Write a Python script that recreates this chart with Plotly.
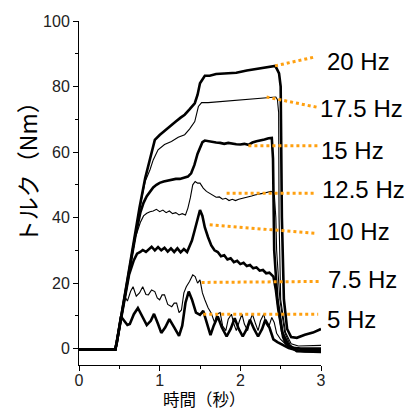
import plotly.graph_objects as go

# ---------------- data (time in s, torque in Nm) ----------------
t_5 = [0, 0.45, 0.47, 0.52, 0.56, 0.60, 0.63, 0.68, 0.73, 0.78, 0.84, 0.89, 0.93, 0.98, 1.02, 1.07, 1.12,
       1.18, 1.24, 1.28, 1.32, 1.36, 1.40, 1.45, 1.50, 1.54, 1.58, 1.63, 1.67, 1.72, 1.77, 1.83, 1.88, 1.93,
       1.98, 2.03, 2.08, 2.12, 2.17, 2.22, 2.27, 2.31, 2.36, 2.41, 2.46, 2.53, 2.60, 2.70, 2.80, 3.0]
v_5 = [-0.3, -0.3, 2, 9.8, 8.5, 7.2, 7.5, 10.5, 12.4, 10, 7.2, 8.5, 10.6, 7.5, 4.8, 6.5, 9,
       6.5, 3.9, 7, 14, 17.4, 15, 11, 10.3, 11.5, 8.5, 4.1, 7, 9.8, 6.5, 3.7, 6, 9.3,
       6, 3.7, 6, 8.8, 6, 3.7, 6, 8.8, 6.5, 2.8, 2.0, 1.1, 0.2, -0.5, -0.8, -0.8]

t_75 = [0, 0.45, 0.48, 0.53, 0.57, 0.60, 0.64, 0.67, 0.71, 0.75, 0.79, 0.83, 0.86, 0.90, 0.94, 0.97, 1.00,
        1.03, 1.06, 1.10, 1.15, 1.18, 1.21, 1.24, 1.27, 1.30, 1.33, 1.37, 1.41, 1.44, 1.47, 1.50, 1.53,
        1.56, 1.60, 1.64, 1.68, 1.71, 1.75, 1.78, 1.82, 1.85, 1.89, 1.92, 1.95, 1.99, 2.02, 2.05, 2.09,
        2.12, 2.15, 2.19, 2.22, 2.25, 2.29, 2.32, 2.35, 2.39, 2.42, 2.45, 2.50, 2.57, 2.65, 2.75, 3.0]
v_75 = [-0.3, -0.3, 3, 10, 15.9, 14.5, 17.5, 18.9, 16, 17, 18.9, 16.5, 16.4, 17.9, 17.4, 15.5, 14.9,
        16.4, 16.4, 13.5, 12.8, 13.9, 13.9, 11.0, 11.8, 17, 18.9, 20.5, 22.5, 22, 20, 21, 17,
        14.9, 12.5, 10.8, 8, 10.5, 11, 7, 5.5, 9, 10.5, 7.5, 5.5, 8.5, 10.5, 7.5, 5.5,
        8.5, 10.5, 7.5, 5.5, 8.5, 10.5, 7.5, 6.5, 9.5, 8, 4.7, 2.8, 1.2, 0, -0.8, -0.9]

t_10 = [0, 0.45, 0.48, 0.55, 0.62, 0.68, 0.72, 0.76, 0.79, 0.83, 0.87, 0.90, 0.94, 0.98, 1.02, 1.06, 1.10,
        1.14, 1.18, 1.22, 1.26, 1.30, 1.34, 1.37, 1.40, 1.435, 1.47, 1.50, 1.53, 1.56, 1.60, 1.64, 1.68,
        1.72, 1.76, 1.80, 1.84, 1.88, 1.92, 1.96, 2.00, 2.04, 2.08, 2.12, 2.16, 2.20, 2.24, 2.28, 2.32,
        2.36, 2.41, 2.44, 2.47, 2.50, 2.53, 2.56, 2.62, 2.75, 3.0]
v_10 = [-0.3, -0.3, 3.5, 13, 22.5, 27, 29, 29.5, 30.1, 29.5, 30.5, 31.1, 30, 31, 30, 30.8, 29.6,
        30.6, 29.5, 30.6, 29.4, 30.4, 29.5, 31.1, 33, 36.2, 40, 42.3, 40.5, 37, 34, 31.5, 30,
        29.5, 28.2, 28.5, 27.2, 27.6, 26.4, 26.8, 25.8, 26.2, 25.2, 25.5, 24.5, 24.8, 23.8, 24, 23,
        23.2, 22, 18, 12, 7, 3.5, 1.8, 0.3, 0, 0]

t_125 = [0, 0.45, 0.50, 0.60, 0.70, 0.76, 0.80, 0.84, 0.88, 0.92, 0.96, 1.00, 1.04, 1.08, 1.12, 1.16, 1.20,
         1.24, 1.28, 1.32, 1.35, 1.38, 1.41, 1.44, 1.47, 1.50, 1.54, 1.58, 1.62, 1.66, 1.70, 1.74, 1.78,
         1.82, 1.86, 1.90, 1.94, 1.98, 2.02, 2.06, 2.10, 2.14, 2.18, 2.22, 2.26, 2.30, 2.34, 2.38, 2.42,
         2.44, 2.45, 2.49, 2.55, 2.62, 2.72, 3.0]
v_125 = [-0.3, -0.3, 6.5, 20.5, 34, 38.5, 40.5, 41.3, 41.8, 42, 42.5, 41.8, 42.3, 41.5, 42, 41.2, 41.5,
         40.8, 41.2, 40.8, 42.9, 46, 50, 51, 50.5, 50.5, 49, 48, 47.4, 46.7, 46.2, 46.3, 45.6,
         45.9, 45.2, 45.6, 45.2, 45.6, 45.8, 46, 46.3, 46.6, 46.9, 47, 47.3, 47.5, 47.8, 48, 47.5,
         40, 30, 15, 5, 1, -0.5, -0.6]

t_15 = [0, 0.45, 0.50, 0.60, 0.70, 0.76, 0.80, 0.84, 0.88, 0.92, 0.96, 1.00, 1.05, 1.10, 1.15, 1.20, 1.25,
        1.30, 1.35, 1.39, 1.43, 1.47, 1.50, 1.53, 1.56, 1.60, 1.65, 1.70, 1.75, 1.80, 1.85, 1.90, 1.95,
        2.00, 2.05, 2.10, 2.15, 2.20, 2.25, 2.30, 2.35, 2.39, 2.405, 2.42, 2.46, 2.52, 2.60, 2.70, 3.0]
v_15 = [-0.3, -0.3, 6.5, 20.5, 34.5, 41.5, 44.5, 46.5, 48, 49.2, 50, 50.6, 51, 51.3, 51.5, 51.8, 51.8,
        52.2, 52.5, 53.5, 56, 59.5, 61.5, 63, 63.5, 63.3, 63.2, 62.9, 62.8, 62.5, 62.8, 62.5, 62.4,
        62.3, 62.5, 62.2, 62.9, 63.3, 63.5, 63.8, 64.2, 64.3, 58, 30, 15, 5, 1, -0.8, -1]

t_175 = [0, 0.45, 0.47, 0.55, 0.65, 0.75, 0.82, 0.88, 0.92, 0.98, 1.06, 1.146, 1.23, 1.31, 1.37, 1.435, 1.48,
         1.52, 1.60, 1.70, 1.80, 1.91, 2.00, 2.10, 2.20, 2.32, 2.44, 2.46, 2.475, 2.48, 2.50, 2.56, 2.63,
         2.72, 3.0]
v_175 = [-0.3, -0.3, 2, 13.5, 28, 42.5, 51, 54.6, 57.6, 60.7, 62.3, 63.2, 64.5, 65.3, 67, 69.3, 73.9,
         75.1, 75.1, 75.3, 75.4, 75.7, 75.8, 76.1, 76.3, 76.6, 76.8, 76, 72, 40, 15, 5, 1.5,
         0.8, 1.0]

t_20 = [0, 0.45, 0.47, 0.55, 0.65, 0.75, 0.82, 0.86, 0.90, 0.94, 1.00, 1.06, 1.125, 1.20, 1.26, 1.31, 1.37,
        1.435, 1.47, 1.50, 1.56, 1.62, 1.70, 1.83, 1.95, 2.08, 2.16, 2.24, 2.33, 2.43, 2.45, 2.48, 2.50,
        2.515, 2.54, 2.58, 2.63, 2.70, 2.80, 2.90, 3.0]
v_20 = [-0.3, -0.3, 2, 14, 28.5, 43, 52, 56, 60.5, 63.7, 65.2, 66.5, 67.8, 69.3, 70.5, 71.4, 73,
        74.9, 77.5, 81, 83.3, 83.3, 83.8, 83.9, 84.2, 84.9, 85.2, 85.6, 86, 86.3, 85.5, 84, 80,
        40, 15, 6, 3.5, 3.3, 4.2, 4.9, 6]

series_t = [t_20, t_175, t_15, t_125, t_10, t_75, t_5]
series_v = [v_20, v_175, v_15, v_125, v_10, v_75, v_5]
series_names = ["20 Hz", "17.5 Hz", "15 Hz", "12.5 Hz", "10 Hz", "7.5 Hz", "5 Hz"]
series_thick = [True, False, True, False, True, False, True]

# leader lines (curve point -> label) and label anchor positions (data units)
leader_t0 = [2.43, 2.325, 2.10, 1.83, 1.62, 1.52, 1.54]
leader_v0 = [86.3, 76.8, 61.9, 47.4, 37.8, 20.2, 10.5]
leader_t1 = [2.92, 2.945, 2.965, 2.925, 2.925, 2.99, 2.965]
leader_v1 = [89.0, 73.7, 61.9, 47.4, 35.2, 20.5, 10.5]
label_t = [3.05, 2.96, 2.97, 2.99, 3.05, 3.06, 3.05]
label_v = [87.5, 73.2, 60.4, 48.5, 35.6, 21.0, 8.8]

x_range = [0, 3]
y_range = [-5, 100]
x_ticks = [0, 1, 2, 3]
y_ticks = [0, 20, 40, 60, 80, 100]

fig = go.Figure()

for tt, vv, nm, thick in zip(series_t, series_v, series_names, series_thick):
    fig.add_trace(go.Scatter(
        x=tt, y=vv, mode="lines", name=nm, showlegend=False,
        line=dict(color="black", width=2.6 if thick else 1.1),
        hoverinfo="skip"))

for x0, y0, x1, y1 in zip(leader_t0, leader_v0, leader_t1, leader_v1):
    fig.add_trace(go.Scatter(
        x=[x0, x1], y=[y0, y1], mode="lines", showlegend=False, cliponaxis=False,
        line=dict(color="#FFA010", width=3, dash="3px,3px"), hoverinfo="skip"))

# labels sit to the right of the plot area; place them in paper units derived from data units
for nm, lx, ly in zip(series_names, label_t, label_v):
    px = (lx - x_range[0]) / (x_range[1] - x_range[0])
    py = (ly - y_range[0]) / (y_range[1] - y_range[0])
    fig.add_annotation(x=px, y=py, xref="paper", yref="paper", text=nm, showarrow=False,
                       xanchor="left", yanchor="middle",
                       font=dict(family="Liberation Sans, Arial, sans-serif", size=24, color="black"))

axis_font = dict(family="Liberation Sans, Arial, sans-serif", size=16, color="#222")
title_family = "Noto Sans CJK JP, Liberation Sans, sans-serif"

# axis titles
fig.add_annotation(x=-0.215, y=0.578, xref="paper", yref="paper", text="トルク（Nm）",
                   showarrow=False, textangle=-90, xanchor="center", yanchor="middle",
                   font=dict(family=title_family, size=23, color="black"))
fig.add_annotation(x=0.52, y=-0.099, xref="paper", yref="paper", text="時間（秒）",
                   showarrow=False, xanchor="center", yanchor="middle",
                   font=dict(family=title_family, size=16.5, color="black"))

fig.update_layout(
    width=404, height=410,
    margin=dict(l=79, r=83, t=21, b=45),
    paper_bgcolor="white", plot_bgcolor="white",
    xaxis=dict(range=x_range, tickvals=x_ticks, showgrid=False, zeroline=False, automargin=False,
               showline=True, linecolor="black", linewidth=1,
               ticks="outside", ticklen=5, tickcolor="black", tickfont=axis_font,
               ticklabelstandoff=-4,
               minor=dict(dtick=0.5, ticks="outside", ticklen=3, tickcolor="black")),
    yaxis=dict(range=y_range, tickvals=y_ticks, showgrid=False, zeroline=False, automargin=False,
               showline=True, linecolor="black", linewidth=1,
               ticks="outside", ticklen=5, tickcolor="black", tickfont=axis_font,
               minor=dict(dtick=10, tick0=0, ticks="outside", ticklen=3, tickcolor="black")),
)

fig.write_html("out.html", config={"displayModeBar": False},
               post_script="document.body.style.margin='0';document.body.style.overflow='hidden';")
